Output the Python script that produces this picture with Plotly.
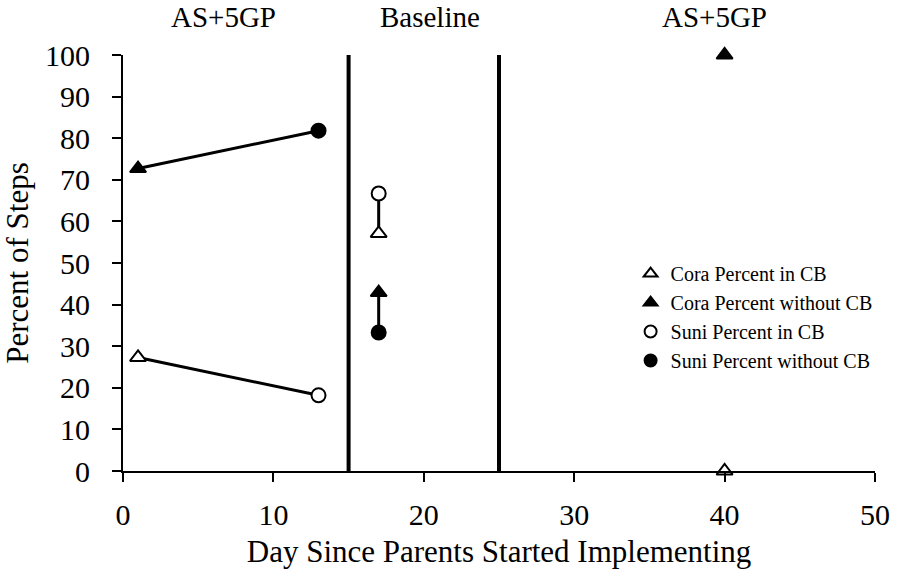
import plotly.graph_objects as go

# Data
cora_in_x = [1, 17, 40]
cora_in_y = [27.3, 57.1, 0]
cora_out_x = [1, 17, 40]
cora_out_y = [72.7, 42.9, 100]
suni_in_x = [13, 17]
suni_in_y = [18.2, 66.7]
suni_out_x = [13, 17]
suni_out_y = [81.8, 33.3]

phase_lines = [15, 25]
phase_labels = ["AS+5GP", "Baseline", "AS+5GP"]
phase_label_x = [6.7, 20.4, 39.3]

x_ticks = [0, 10, 20, 30, 40, 50]
y_ticks = [0, 10, 20, 30, 40, 50, 60, 70, 80, 90, 100]

FONT = "Liberation Serif"

fig = go.Figure()

# connecting lines (phase 1 and baseline)
line_x = [cora_out_x[0], suni_out_x[0], None,
          cora_in_x[0], suni_in_x[0], None,
          suni_in_x[1], cora_in_x[1], None,
          cora_out_x[1], suni_out_x[1]]
line_y = [cora_out_y[0], suni_out_y[0], None,
          cora_in_y[0], suni_in_y[0], None,
          suni_in_y[1], cora_in_y[1], None,
          cora_out_y[1], suni_out_y[1]]
fig.add_trace(go.Scatter(x=line_x, y=line_y, mode="lines",
                         line=dict(color="black", width=3),
                         showlegend=False, hoverinfo="skip", cliponaxis=False))

mk = dict(size=14, line=dict(color="black", width=2))
fig.add_trace(go.Scatter(x=cora_in_x, y=cora_in_y, mode="markers", name="Cora Percent in CB",
                         marker=dict(symbol="triangle-up", color="white", **mk), cliponaxis=False))
fig.add_trace(go.Scatter(x=cora_out_x, y=cora_out_y, mode="markers", name="Cora Percent without CB",
                         marker=dict(symbol="triangle-up", color="black", **mk), cliponaxis=False))
fig.add_trace(go.Scatter(x=suni_in_x, y=suni_in_y, mode="markers", name="Suni Percent in CB",
                         marker=dict(symbol="circle", color="white", **mk), cliponaxis=False))
fig.add_trace(go.Scatter(x=suni_out_x, y=suni_out_y, mode="markers", name="Suni Percent without CB",
                         marker=dict(symbol="circle", color="black", **mk), cliponaxis=False))

for px in phase_lines:
    fig.add_shape(type="line", x0=px, x1=px, y0=0, y1=100.5, xref="x", yref="y",
                  line=dict(color="black", width=4))

for lbl, lx in zip(phase_labels, phase_label_x):
    fig.add_annotation(x=lx, xref="x", y=1.0, yref="paper", yanchor="middle", yshift=38,
                       text=lbl, showarrow=False,
                       font=dict(family=FONT, size=29, color="black"))

fig.update_layout(
    width=902, height=575,
    margin=dict(l=123, r=19, t=55, b=102),
    plot_bgcolor="white", paper_bgcolor="white",
    font=dict(family=FONT, color="black"),
    legend=dict(x=0.675, y=0.5215, xanchor="left", yanchor="top",
                font=dict(family=FONT, size=20, color="black"),
                bgcolor="rgba(0,0,0,0)", tracegroupgap=0, itemsizing="constant"),
)
fig.update_xaxes(range=[0, 50], tickvals=x_ticks, showgrid=False, zeroline=False,
                 showline=True, linecolor="black", linewidth=2,
                 ticks="outside", ticklen=9, tickwidth=2, tickcolor="black",
                 ticklabelstandoff=7,
                 tickfont=dict(family=FONT, size=30),
                 title=dict(text="Day Since Parents Started Implementing",
                            font=dict(family=FONT, size=31), standoff=10))
fig.update_yaxes(range=[0, 100], tickvals=y_ticks, showgrid=False, zeroline=False,
                 showline=True, linecolor="black", linewidth=2,
                 ticks="outside", ticklen=9, tickwidth=2, tickcolor="black",
                 ticklabelstandoff=16,
                 tickfont=dict(family=FONT, size=30),
                 title=dict(text="Percent of Steps", font=dict(family=FONT, size=31), standoff=8))

fig.write_html("out.html", config={"displayModeBar": False},
               post_script="document.body.style.margin='0px';")
